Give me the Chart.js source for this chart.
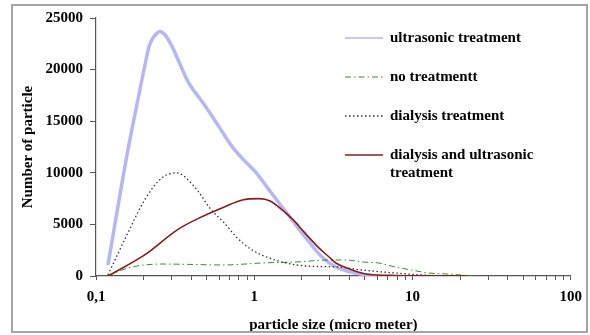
<!DOCTYPE html>
<html>
<head>
<meta charset="utf-8">
<script src="https://cdn.jsdelivr.net/npm/chart.js@4.4.1/dist/chart.umd.min.js"></script>
<style>
  html, body { margin: 0; padding: 0; background: #fff; }
  #wrap { position: relative; width: 590px; height: 335px; }
  #frame { position: absolute; left: 11px; top: 4px; width: 577px; height: 329px;
           box-sizing: border-box; border: 2px solid #a4a4a4; pointer-events: none; }
  canvas { position: absolute; left: 0; top: 0; }
</style>
</head>
<body>
<div id="wrap">
  <canvas id="sizeChart" width="590" height="335"></canvas>
  <div id="frame"></div>
</div>
<script>
// particle size (micro meter) / number of particle
const ultrasonicSize = [0.119, 0.159, 0.184, 0.203, 0.218, 0.242, 0.253, 0.272, 0.301, 0.338, 0.379, 0.484, 0.577, 0.727, 0.84, 1.03, 1.24, 1.5, 1.74, 2.12, 2.68, 3.28, 3.85, 5.06, 6.1];
const ultrasonicCount = [1070, 12200, 17100, 20300, 22400, 23500, 23700, 23400, 22300, 20600, 18900, 16590, 14840, 12510, 11400, 9990, 8340, 6690, 5400, 3700, 1840, 870, 490, 100, 0];

const noTreatSize = [0.119, 0.159, 0.203, 0.26, 0.647, 1.12, 1.84, 2.97, 3.85, 4.78, 6.1, 7.8, 9.86, 12.6, 16.2, 24.2];
const noTreatCount = [0, 780, 1070, 1160, 1070, 1260, 1360, 1550, 1550, 1360, 1260, 870, 580, 290, 200, 0];

const dialysisSize = [0.119, 0.159, 0.203, 0.26, 0.323, 0.42, 0.535, 0.647, 0.77, 0.97, 1.24, 1.59, 2.12, 3.42, 4.78, 7.8, 11.4, 16.3];
const dialysisCount = [100, 4170, 7370, 9500, 9990, 8630, 6400, 5140, 3780, 2520, 1750, 1260, 970, 870, 580, 290, 100, 0];

const bothSize = [0.119, 0.203, 0.328, 0.45, 0.647, 0.84, 1.07, 1.27, 1.5, 1.84, 2.0, 2.56, 2.97, 3.28, 3.85, 5.06, 7.8, 22];
const bothCount = [0, 2040, 4500, 5630, 6690, 7370, 7500, 7250, 6400, 5150, 4500, 2720, 1840, 1260, 780, 200, 50, 0];

const seriesNames = ['ultrasonic treatment', 'no treatmentt', 'dialysis treatment', 'dialysis and ultrasonic treatment'];
const legendLines = [['ultrasonic treatment'], ['no treatmentt'], ['dialysis treatment'], ['dialysis and ultrasonic', 'treatment']];

const xMajorTicks = [0.1, 1, 10, 100];
const xTickLabels = ['0,1', '1', '10', '100'];
const yTicks = [0, 5000, 10000, 15000, 20000, 25000];

function pts(xs, ys) {
  return xs.map((x, i) => ({ x: x, y: ys[i] }));
}

const serif = '"Liberation Serif", "Times New Roman", serif';

// legend drawn at the right, inside the plot like the original
const sideLegend = {
  id: 'sideLegend',
  afterDraw(chart) {
    const ctx = chart.ctx;
    const rowY = [38, 77, 116, 155];
    ctx.save();
    ctx.font = 'bold 15px ' + serif;
    ctx.textBaseline = 'middle';
    ctx.textAlign = 'left';
    chart.data.datasets.forEach((ds, i) => {
      const y = rowY[i];
      ctx.beginPath();
      ctx.strokeStyle = ds.borderColor;
      ctx.lineWidth = ds.legendWidth;
      ctx.setLineDash(ds.borderDash || []);
      ctx.moveTo(345, y);
      ctx.lineTo(383, y);
      ctx.stroke();
      ctx.setLineDash([]);
      ctx.fillStyle = '#000';
      legendLines[i].forEach((t, j) => ctx.fillText(t, 390, y + j * 18));
    });
    ctx.restore();
  }
};

new Chart(document.getElementById('sizeChart'), {
  type: 'line',
  data: {
    datasets: [
      { label: seriesNames[0], data: pts(ultrasonicSize, ultrasonicCount), borderColor: '#b6b6f2',
        borderWidth: 3.5, legendWidth: 1.5, order: 3 },
      { label: seriesNames[1], data: pts(noTreatSize, noTreatCount), borderColor: '#2f8f2f',
        borderWidth: 1, borderDash: [6, 3, 1.5, 3], legendWidth: 1, order: 2 },
      { label: seriesNames[2], data: pts(dialysisSize, dialysisCount), borderColor: '#333',
        borderWidth: 1.3, borderDash: [1.5, 2.5], legendWidth: 1.3, order: 1 },
      { label: seriesNames[3], data: pts(bothSize, bothCount), borderColor: '#861c1c',
        borderWidth: 1.6, legendWidth: 1.5, order: 0 }
    ]
  },
  options: {
    responsive: false,
    animation: false,
    elements: {
      point: { radius: 0 },
      line: { cubicInterpolationMode: 'monotone', fill: false }
    },
    layout: { padding: { left: 0, top: 18, right: 16, bottom: 0 } },
    plugins: { legend: { display: false }, tooltip: { enabled: false } },
    scales: {
      x: {
        type: 'logarithmic',
        min: 0.1,
        max: 100,
        afterBuildTicks(scale) {
          const t = [];
          for (let d = 0; d < xMajorTicks.length - 1; d++) {
            for (let m = 1; m < 10; m++) t.push({ value: xMajorTicks[d] * m });
          }
          t.push({ value: xMajorTicks[xMajorTicks.length - 1] });
          scale.ticks = t;
        },
        afterFit(scale) { scale.height = 59; },
        grid: { drawOnChartArea: false, drawTicks: true, tickLength: 4, color: '#555' },
        border: { color: '#555', width: 1.2 },
        ticks: {
          autoSkip: false,
          maxRotation: 0,
          padding: 8,
          color: '#000',
          font: { family: serif, size: 15, weight: 'bold' },
          callback(value) {
            const k = xMajorTicks.findIndex(v => Math.abs(v - value) < 1e-9);
            return k >= 0 ? xTickLabels[k] : '';
          }
        },
        title: {
          display: true,
          text: 'particle size (micro meter)',
          color: '#000',
          font: { family: serif, size: 15, weight: 'bold' },
          padding: { top: 0, bottom: 1 }
        }
      },
      y: {
        min: 0,
        max: 25000,
        afterBuildTicks(scale) { scale.ticks = yTicks.map(v => ({ value: v })); },
        afterFit(scale) { scale.width = 96; },
        grid: { drawOnChartArea: false, drawTicks: true, tickLength: 6, color: '#555' },
        border: { color: '#555', width: 1.2 },
        ticks: {
          padding: 7,
          color: '#000',
          font: { family: serif, size: 15, weight: 'bold' },
          callback(value) { return String(value); }
        },
        title: {
          display: true,
          text: 'Number of particle',
          color: '#000',
          font: { family: serif, size: 15, weight: 'bold' },
          padding: { top: 19, bottom: 0 }
        }
      }
    }
  },
  plugins: [sideLegend]
});
</script>
</body>
</html>
